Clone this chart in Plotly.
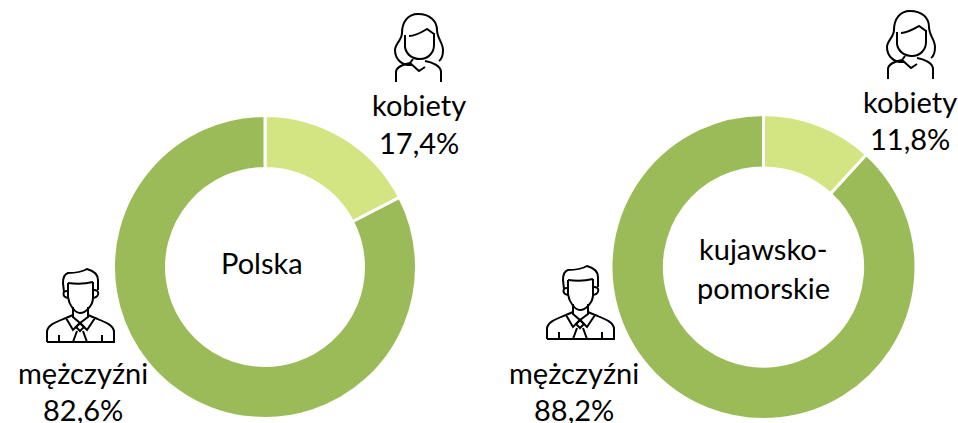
import plotly.graph_objects as go

W, H = 958, 423
labels = ["kobiety", "mężczyźni"]
polska = [17.4, 82.6]
kujawsko = [11.8, 88.2]
colors = ["#D3E582", "#9BBB59"]
FONT = "Lato"
SIZE = 29
text_items = [
    (419, 104, "kobiety"), (419, 142, "17,4%"),
    (83, 372, "mężczyźni"), (83, 409, "82,6%"),
    (262, 262, "Polska"),
    (910, 101, "kobiety"), (910, 139, "11,8%"),
    (574, 372, "mężczyźni"), (574, 409, "88,2%"),
    (763, 249, "kujawsko-"), (763, 287, "pomorskie"),
]


def dom(cx, cy, r):
    return dict(x=[(cx - r) / W, (cx + r) / W], y=[1 - (cy + r) / H, 1 - (cy - r) / H])


fig = go.Figure()
for vals, d in [(polska, dom(265, 267, 151.5)), (kujawsko, dom(763.5, 267, 152.5))]:
    fig.add_trace(go.Pie(
        labels=labels, values=vals, hole=0.65, sort=False, direction="clockwise",
        rotation=0, domain=d, textinfo="none", hoverinfo="label+percent",
        marker=dict(colors=colors, line=dict(color="white", width=3)), showlegend=False,
    ))

annotations = [
    dict(x=x / W, y=1 - y / H, xref="paper", yref="paper", text=t, showarrow=False,
         font=dict(family=FONT, size=SIZE, color="#000000"), xanchor="center", yanchor="middle")
    for x, y, t in text_items
]

# Icon outlines, as curves in pixel offsets: "M"/"L"/"Q"/"C" commands with point lists
WOMAN = [
    [("M", (412, 65)), ("C", (403, 66), (395, 60), (395, 50)), ("C", (395, 44), (402, 40), (402, 33)),
     ("C", (402, 22), (408, 14), (418, 14)), ("C", (430, 14), (437, 21), (437, 30)),
     ("C", (437, 38), (443, 43), (443, 50)), ("C", (443, 55), (442, 59), (439, 61))],
    [("M", (405, 35)), ("L", (405, 47)), ("C", (406, 54), (412, 59), (420, 59)),
     ("C", (428, 59), (434, 53), (434, 45)), ("L", (434, 33))],
    [("M", (409, 36)), ("C", (416, 36), (422, 32), (427, 29)), ("L", (434, 34))],
    [("M", (396, 82)), ("L", (396, 72)), ("C", (396, 67), (404, 64), (410, 63)),
     ("L", (413, 59)), ("M", (410, 63)), ("L", (419, 71)), ("L", (425, 67)),
     ("M", (425, 61)), ("C", (432, 62), (441, 66), (441, 72)), ("L", (441, 82))],
]
MAN = [
    [("M", (64, 292)), ("L", (63, 283)), ("C", (63, 277), (65, 274), (68, 273)),
     ("C", (74, 273), (80, 273), (87, 269)), ("C", (94, 271), (98, 275), (98, 280)), ("L", (98, 290))],
    [("M", (68, 283)), ("C", (75, 284), (85, 284), (93, 282))],
    [("M", (68, 283)), ("L", (68, 297)), ("C", (69, 305), (75, 313), (80, 313)),
     ("C", (86, 313), (93, 305), (93, 298)), ("L", (93, 282))],
    [("M", (68, 291)), ("C", (62, 290), (62, 297), (68, 298))],
    [("M", (93, 290)), ("C", (100, 289), (100, 297), (93, 298))],
    [("M", (73, 307)), ("L", (73, 317)), ("L", (80, 323)), ("L", (88, 317)), ("L", (88, 307))],
    [("M", (47, 342)), ("L", (47, 332)), ("C", (47, 325), (56, 322), (66, 318)), ("L", (73, 315)),
     ("M", (66, 318)), ("L", (73, 330)), ("L", (80, 323)), ("L", (87, 330)), ("L", (95, 318)), ("L", (88, 315)),
     ("M", (95, 318)), ("C", (105, 322), (114, 325), (114, 332)), ("L", (114, 342)), ("L", (47, 342))],
    [("M", (80, 323)), ("L", (76, 327)), ("L", (80, 331)), ("L", (84, 327)), ("L", (80, 323))],
    [("M", (77, 331)), ("L", (73, 342)), ("M", (83, 331)), ("L", (87, 342))],
    [("M", (59, 335)), ("L", (59, 342)), ("M", (102, 335)), ("L", (102, 342))],
]


def icon_path(cmds, dx, dy):
    parts = []
    for c in cmds:
        pts = " ".join(f"{(x + dx) / W:.5f},{1 - (y + dy) / H:.5f}" for x, y in c[1:])
        parts.append(f"{c[0]}{pts}")
    return " ".join(parts)


shapes = []
for icon, dx, dy in [(WOMAN, 0, 0), (WOMAN, 492, -3), (MAN, 0, 0), (MAN, 500, -3)]:
    for cmds in icon:
        shapes.append(dict(type="path", xref="paper", yref="paper", layer="above",
                           path=icon_path(cmds, dx, dy),
                           line=dict(color="black", width=2), fillcolor="rgba(0,0,0,0)"))

fig.update_layout(
    width=W, height=H, margin=dict(l=0, r=0, t=0, b=0),
    paper_bgcolor="white", plot_bgcolor="white",
    annotations=annotations, shapes=shapes, showlegend=False,
)
fig.write_html("out.html", post_script="document.body.style.margin='0';",
               config=dict(displayModeBar=False))
